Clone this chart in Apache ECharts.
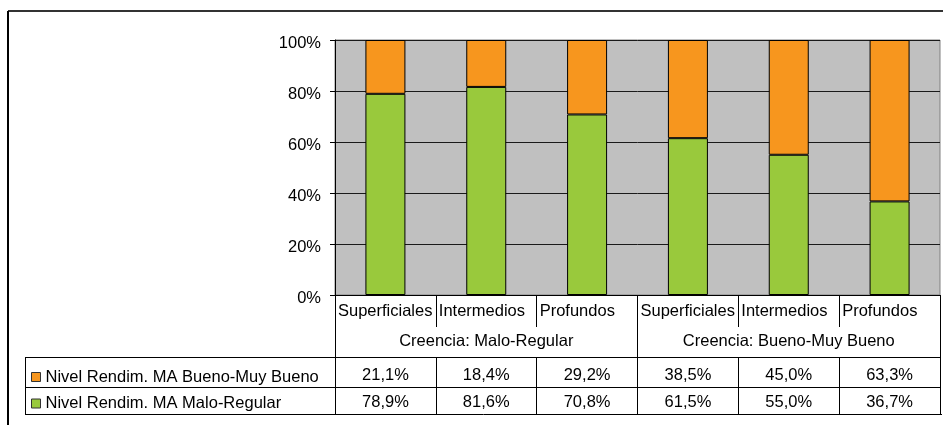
<!DOCTYPE html>
<html>
<head>
<meta charset="utf-8">
<script src="https://cdn.jsdelivr.net/npm/echarts@6/dist/echarts.min.js"></script>
<style>
  html, body { margin: 0; padding: 0; background: #fff; }
  #chart { width: 943px; height: 425px; }
</style>
</head>
<body>
<div id="chart"></div>
<script>
// Categories and groups
const categories = ['Superficiales', 'Intermedios', 'Profundos', 'Superficiales', 'Intermedios', 'Profundos'];
const groups = ['Creencia: Malo-Regular', 'Creencia: Bueno-Muy Bueno'];
const seriesNames = ['Nivel Rendim. MA Bueno-Muy Bueno', 'Nivel Rendim. MA Malo-Regular'];

// Percentages per category
const buenoValues = [21.1, 18.4, 29.2, 38.5, 45.0, 63.3];
const maloValues = [78.9, 81.6, 70.8, 61.5, 55.0, 36.7];

const COLOR_BUENO = '#F7961E';
const COLOR_MALO = '#99C93C';
const FONT = "'Liberation Sans', Arial, sans-serif";
const FS = 16.5;

// Layout of plot area and data table
const G = { left: 335, right: 941, top: 40, bottom: 295 };
const ROW1 = 357, ROW2 = 387, TABLE_BOTTOM = 414, TABLE_LEFT = 25;

const fmt = v => v.toFixed(1).replace('.', ',') + '%';
const black = { color: '#000', width: 1 };
const txt = { color: '#000', fontFamily: FONT, fontSize: FS };

const chart = echarts.init(document.getElementById('chart'), null, { renderer: 'canvas' });

chart.setOption({
  animation: false,
  textStyle: { fontFamily: FONT },
  grid: {
    left: G.left, right: 943 - G.right, top: G.top, bottom: 425 - G.bottom,
    show: true, backgroundColor: '#C0C0C0', borderColor: '#808080', borderWidth: 1,
    containLabel: false
  },
  legend: {
    orient: 'vertical',
    left: 26, top: 363,
    data: seriesNames,
    icon: 'rect',
    itemWidth: 9, itemHeight: 9,
    itemGap: 8.5,
    textStyle: Object.assign({ lineHeight: 18 }, txt),
    itemStyle: { borderColor: '#333', borderWidth: 1 },
    selectedMode: false
  },
  yAxis: {
    type: 'value', min: 0, max: 100, interval: 20,
    axisLine: { show: true, lineStyle: black },
    axisTick: { show: true, length: 5, lineStyle: black },
    axisLabel: Object.assign({
      formatter: v => '{a|' + v + '%}', margin: 14,
      rich: { a: Object.assign({ padding: [6, 0, 0, 0] }, txt) }
    }, txt),
    splitLine: { show: true, lineStyle: { color: '#1a1a1a', width: 1 } }
  },
  xAxis: [
    { // bars
      type: 'category', data: categories, position: 'bottom',
      axisLine: { show: true, lineStyle: black },
      axisTick: { show: false }, axisLabel: { show: false }
    },
    { // category names, left-aligned in their cells
      type: 'value', min: 0, max: 6, interval: 1, position: 'bottom',
      axisLine: { show: false }, splitLine: { show: false },
      axisTick: { show: true, length: 32, lineStyle: black },
      axisLabel: Object.assign({
        margin: 8, align: 'left', padding: [0, 0, 0, 3],
        formatter: v => (categories[v] !== undefined ? categories[v] : '')
      }, txt)
    },
    { // group labels
      type: 'category', data: groups, position: 'bottom',
      axisLine: { show: false },
      axisTick: { show: true, length: TABLE_BOTTOM - G.bottom, lineStyle: black },
      axisLabel: Object.assign({ margin: 38 }, txt)
    },
    { // table row: Bueno-Muy Bueno
      type: 'category', data: categories, position: 'bottom', offset: ROW1 - G.bottom,
      axisLine: { show: true, lineStyle: black },
      axisTick: { show: true, length: ROW2 - ROW1, lineStyle: black },
      axisLabel: Object.assign({ margin: 10, formatter: (v, i) => fmt(buenoValues[i]) }, txt)
    },
    { // table row: Malo-Regular
      type: 'category', data: categories, position: 'bottom', offset: ROW2 - G.bottom,
      axisLine: { show: true, lineStyle: black },
      axisTick: { show: true, length: TABLE_BOTTOM - ROW2, lineStyle: black },
      axisLabel: Object.assign({ margin: 6.5, formatter: (v, i) => fmt(maloValues[i]) }, txt)
    }
  ],
  series: [
    {
      name: seriesNames[1], type: 'bar', stack: 'total', xAxisIndex: 0,
      data: maloValues, barWidth: 40,
      itemStyle: { color: COLOR_MALO, borderColor: '#000', borderWidth: 1 }
    },
    {
      name: seriesNames[0], type: 'bar', stack: 'total', xAxisIndex: 0,
      data: buenoValues, barWidth: 40,
      itemStyle: { color: COLOR_BUENO, borderColor: '#000', borderWidth: 1 }
    }
  ],
  graphic: [
    // outer frame
    { type: 'line', silent: true, shape: { x1: 8, y1: 11, x2: 943, y2: 11 }, style: { stroke: '#333', lineWidth: 2 } },
    { type: 'line', silent: true, shape: { x1: 8, y1: 11, x2: 8, y2: 425 }, style: { stroke: '#000', lineWidth: 2 } },
    // legend cells of the data table
    { type: 'line', silent: true, shape: { x1: TABLE_LEFT, y1: ROW1 + 0.5, x2: G.left, y2: ROW1 + 0.5 }, style: { stroke: '#000', lineWidth: 1 } },
    { type: 'line', silent: true, shape: { x1: TABLE_LEFT, y1: ROW2 + 0.5, x2: G.left, y2: ROW2 + 0.5 }, style: { stroke: '#000', lineWidth: 1 } },
    { type: 'line', silent: true, shape: { x1: TABLE_LEFT, y1: TABLE_BOTTOM + 0.5, x2: G.right + 1, y2: TABLE_BOTTOM + 0.5 }, style: { stroke: '#000', lineWidth: 1 } },
    { type: 'line', silent: true, shape: { x1: TABLE_LEFT + 0.5, y1: ROW1, x2: TABLE_LEFT + 0.5, y2: TABLE_BOTTOM + 1 }, style: { stroke: '#000', lineWidth: 1 } }
  ]
});
</script>
</body>
</html>
